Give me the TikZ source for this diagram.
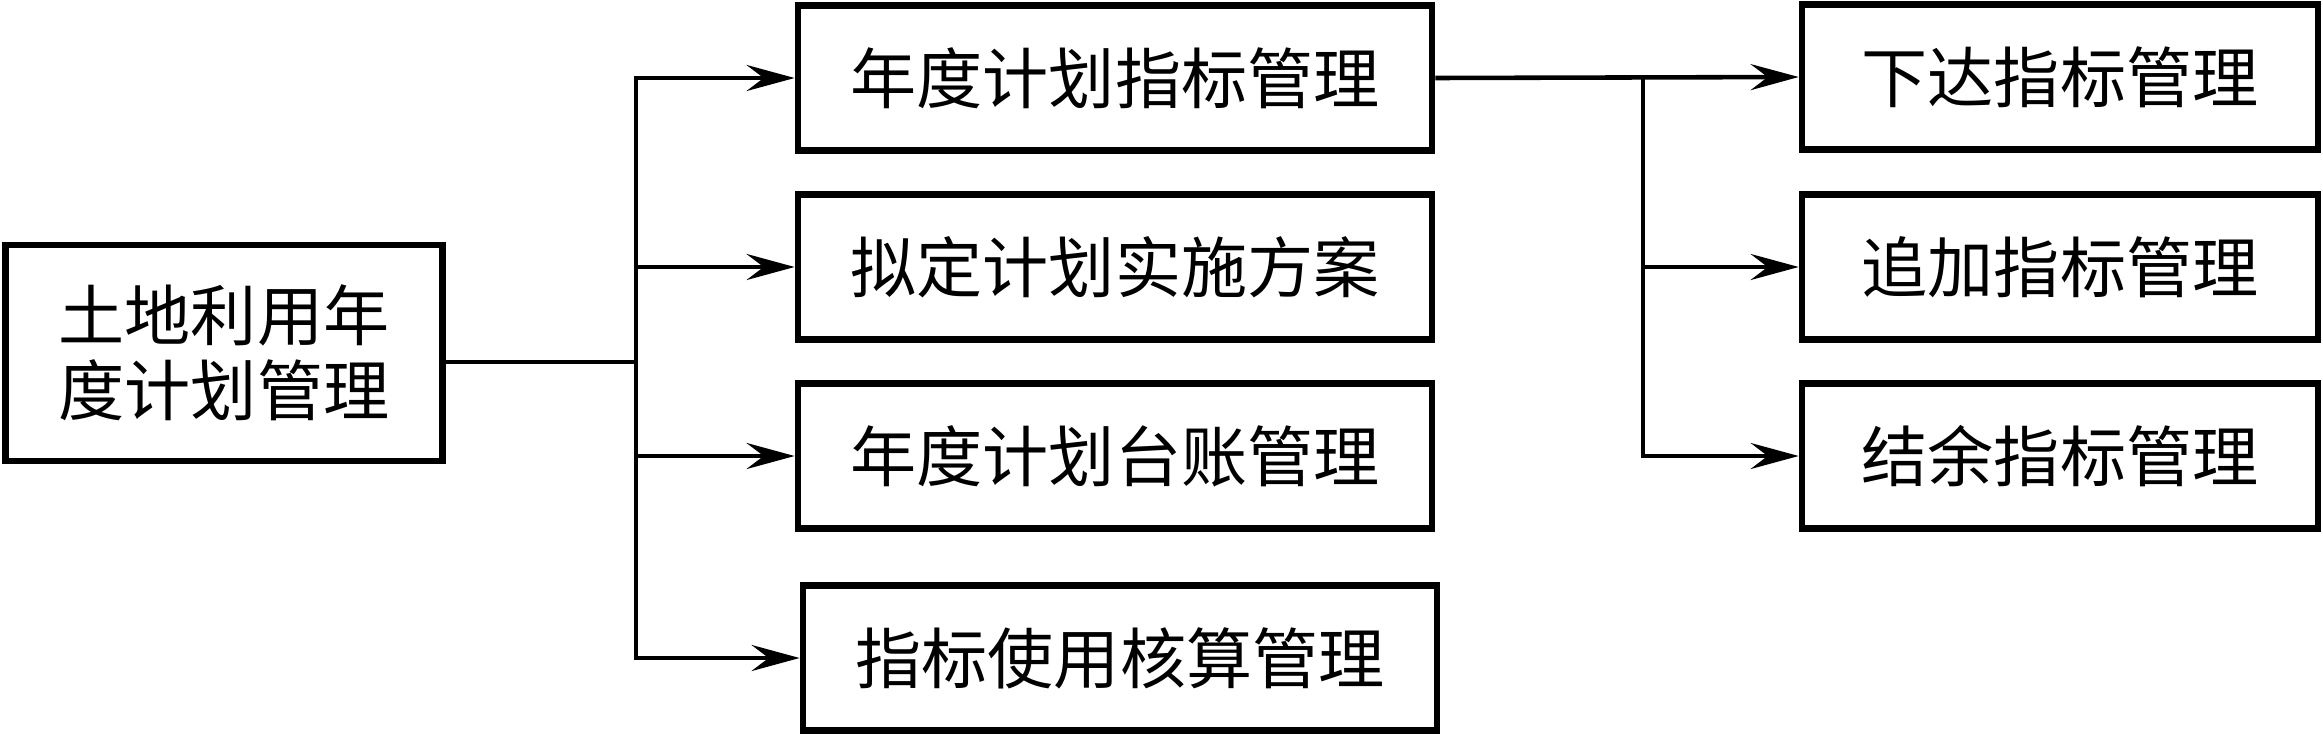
\documentclass[tikz,border=0pt]{standalone}
\usepackage{fontspec}
\setmainfont{Noto Sans CJK SC}
\usetikzlibrary{arrows.meta}

\begin{document}
\begin{tikzpicture}[x=0.01cm, y=-0.01cm, line width=1.3pt,
  box/.style={draw, line width=1.8pt, inner sep=0pt, font=\fontsize{18.8}{21.3}\selectfont},
  midbox/.style={box, minimum width=6.34cm, minimum height=1.45cm},
  subbox/.style={box, minimum width=5.16cm, minimum height=1.45cm},
  >={Stealth[length=4.8mm, width=2.6mm, inset=1.7mm]}]
\useasboundingbox (0,0) rectangle (2323,736);
% 左侧总框
\node[box, minimum width=4.37cm, minimum height=2.16cm, align=center] (root) at (224,353) {土地利用年\\度计划管理};

% 中间一列
\node[midbox] (plan) at (1115,78) {年度计划指标管理};
\node[midbox] (scheme) at (1115,267) {拟定计划实施方案};
\node[midbox] (ledger) at (1115,456) {年度计划台账管理};
\node[midbox] (account) at (1120,658) {指标使用核算管理};

% 右侧一列
\node[subbox] (issue) at (2060,77) {下达指标管理};
\node[subbox] (add) at (2060,267) {追加指标管理};
\node[subbox] (surplus) at (2060,456) {结余指标管理};

% 连线
\coordinate (j1) at (636,362);
\coordinate (j2) at (1643,80);
\draw (root.east |- j1) -- (j1);
\draw[line cap=rect] (j1 |- plan.west) -- (j1 |- account.west);
\foreach \n in {plan,scheme,ledger,account}
  \draw[->] (j1 |- \n.west) -- (\n.west);
\draw[->] (plan.east) -- (issue.west);
\draw[line cap=rect] (j2 |- issue.west) -- (j2 |- surplus.west);
\draw[->] (j2 |- add.west) -- (add.west);
\draw[->] (j2 |- surplus.west) -- (surplus.west);
\end{tikzpicture}
\end{document}
